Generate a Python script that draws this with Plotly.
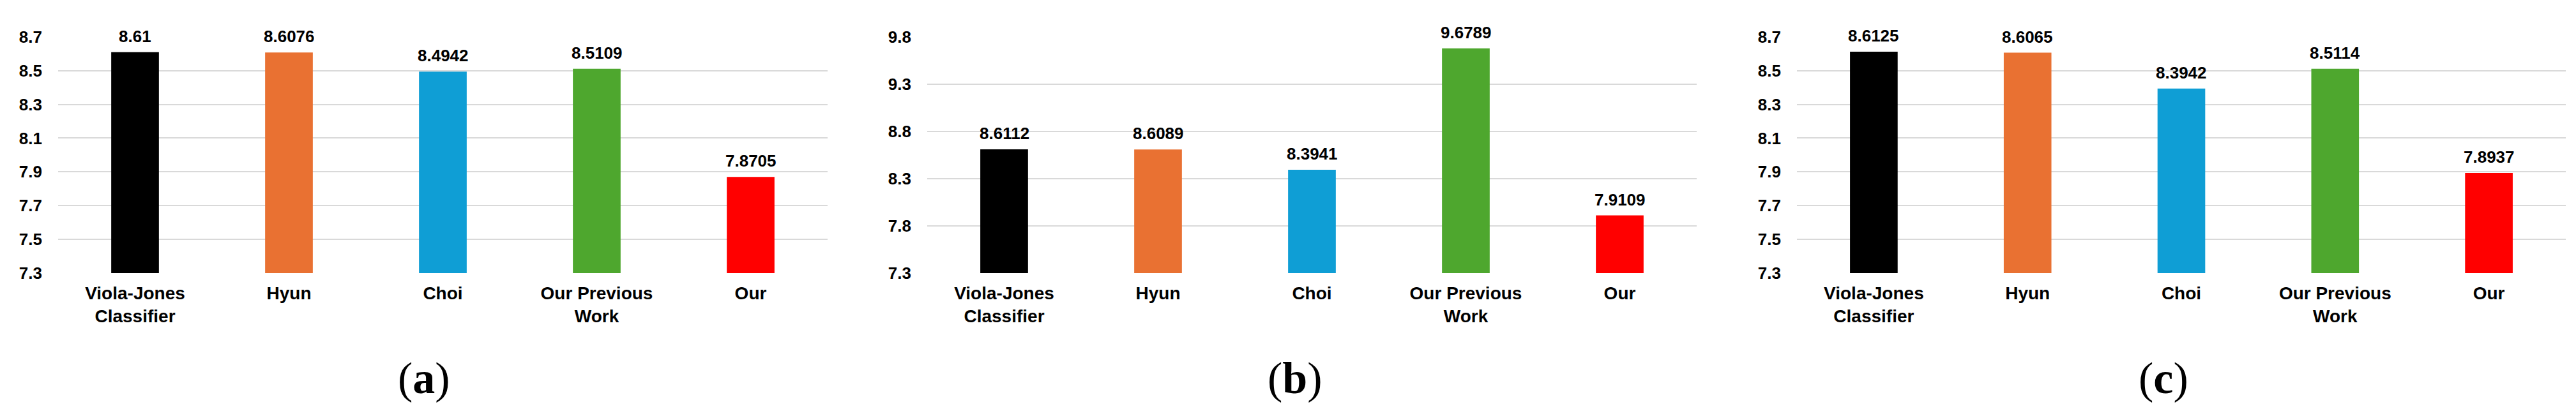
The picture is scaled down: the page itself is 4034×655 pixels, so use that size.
import plotly.graph_objects as go

categories = ["Viola-Jones<br>Classifier", "Hyun", "Choi", "Our Previous<br>Work", "Our"]
colors = ["#000000", "#E97132", "#0F9ED5", "#4EA72E", "#FF0000"]

values_a = [8.61, 8.6076, 8.4942, 8.5109, 7.8705]
values_b = [8.6112, 8.6089, 8.3941, 9.6789, 7.9109]
values_c = [8.6125, 8.6065, 8.3942, 8.5114, 7.8937]

labels_a = ["8.61", "8.6076", "8.4942", "8.5109", "7.8705"]
labels_b = ["8.6112", "8.6089", "8.3941", "9.6789", "7.9109"]
labels_c = ["8.6125", "8.6065", "8.3942", "8.5114", "7.8937"]

yticks_a = [7.3, 7.5, 7.7, 7.9, 8.1, 8.3, 8.5, 8.7]
yticks_b = [7.3, 7.8, 8.3, 8.8, 9.3, 9.8]
yticks_c = [7.3, 7.5, 7.7, 7.9, 8.1, 8.3, 8.5, 8.7]

panel_titles = ["(<b>a</b>)", "(<b>b</b>)", "(<b>c</b>)"]

W, H = 4034, 655
FONT = "Arial, 'Liberation Sans', sans-serif"

panels = [
    (values_a, labels_a, yticks_a, (83, 1288), 656),
    (values_b, labels_b, yticks_b, (1444, 2649), 2020),
    (values_c, labels_c, yticks_c, (2806, 4010), 3380),
]

ydom = [1 - 424.5 / H, 1 - 36.5 / H]

fig = go.Figure()
annotations = []
layout = {}
for i, (vals, labs, yt, (x0, x1), title_x) in enumerate(panels):
    n = "" if i == 0 else str(i + 1)
    xa, ya = "x" + n, "y" + n
    fig.add_trace(go.Bar(
        x=categories, y=vals, marker=dict(color=colors, line=dict(width=0)),
        xaxis=xa, yaxis=ya, showlegend=False, hoverinfo="skip",
    ))
    layout["xaxis" + n] = dict(
        domain=[x0 / W, x1 / W], anchor=ya, type="category",
        showgrid=False, showline=False, zeroline=False,
        tickfont=dict(family=FONT, size=28, color="#000000", weight="bold"),
        ticks="", ticklabelstandoff=12,
    )
    layout["yaxis" + n] = dict(
        domain=ydom, anchor=xa, range=[yt[0], yt[-1]],
        tickmode="array", tickvals=yt, ticktext=[f"{v:.1f}" for v in yt],
        showgrid=True, gridcolor="#D9D9D9", gridwidth=2,
        showline=False, zeroline=False,
        tickfont=dict(family=FONT, size=26, color="#000000", weight="bold"),
        ticks="", ticklabelstandoff=24,
    )
    for c, v, t in zip(categories, vals, labs):
        annotations.append(dict(
            x=c, y=v, xref=xa, yref=ya, text=t, showarrow=False,
            yanchor="bottom", xanchor="center", yshift=8,
            font=dict(family=FONT, size=26, color="#000000", weight="bold"),
        ))
    annotations.append(dict(
        x=title_x / W, y=1 - 597 / H, xref="paper", yref="paper",
        text=panel_titles[i], showarrow=False, xanchor="center", yanchor="middle",
        font=dict(family="'Liberation Serif', 'Times New Roman', serif", size=70, color="#000000"),
    ))

fig.update_layout(
    width=W, height=H, margin=dict(l=0, r=0, t=0, b=0),
    paper_bgcolor="white", plot_bgcolor="white",
    bargap=0.69, annotations=annotations, **layout,
)

fig.write_html("out.html")
